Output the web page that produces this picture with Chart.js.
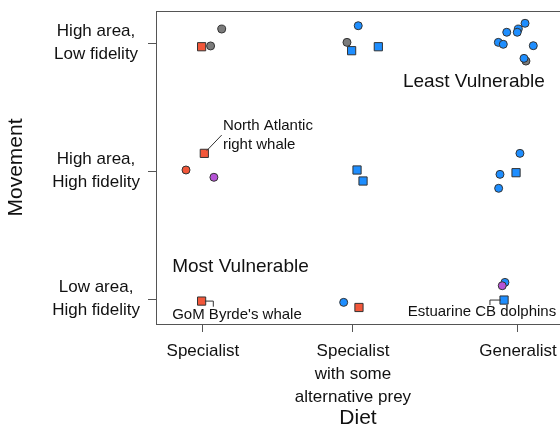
<!DOCTYPE html>
<html>
<head>
<meta charset="utf-8">
<script src="https://cdn.jsdelivr.net/npm/chart.js@4"></script>
<style>
  html, body { margin: 0; padding: 0; background: #fff; }
  #wrap { width: 560px; height: 442px; }
</style>
</head>
<body>
<div id="wrap"><canvas id="vulnChart" width="560" height="442"></canvas></div>
<script>
// categories: diet along x, movement along y
const dietLabels = ['Specialist', ['Specialist', 'with some', 'alternative prey'], 'Generalist'];
const dietPos = [1, 2, 3.1];
const movementLabels = [['Low area,', 'High fidelity'], ['High area,', 'High fidelity'], ['High area,', 'Low fidelity']];
const movementPos = [1, 2, 3];

// jittered species points, grouped by colour / shape
const redSquareX = [0.991, 1.009, 0.991, 2.040];
const redSquareY = [2.971, 2.138, 0.984, 0.934];
const redCircleX = [0.887];
const redCircleY = [2.008];
const purpleCircleX = [1.073, 2.995];
const purpleCircleY = [1.951, 1.104];
const blueSquareX = [1.991, 2.169, 2.027, 2.067, 3.087, 3.007];
const blueSquareY = [2.940, 2.971, 2.008, 1.922, 1.987, 0.992];
const blueCircleX = [2.035, 3.147, 3.102, 3.095, 3.025, 2.969, 3.002, 3.202, 3.140, 3.113, 2.980, 2.971, 1.938, 3.013];
const blueCircleY = [3.135, 3.154, 3.109, 3.084, 3.084, 3.005, 2.990, 2.979, 2.880, 2.138, 1.974, 1.865, 0.974, 1.130];
const grayCircleX = [1.125, 1.051, 1.960, 3.153];
const grayCircleY = [3.109, 2.977, 3.005, 2.859];

// text notes and leader lines, in data units
const notes = [
    { lines: ['North Atlantic', 'right whale'], x: 1.133, y: 2.354, size: 15 },
    { lines: ["GoM Byrde's whale"], x: 0.795, y: 0.875, size: 15 },
    { lines: ['Estuarine CB dolphins'], x: 2.365, y: 0.901, size: 15 },
    { lines: ['Least Vulnerable'], x: 2.333, y: 2.695, size: 19 },
    { lines: ['Most Vulnerable'], x: 0.795, y: 1.252, size: 19 }
];
const leaders = [
    [[1.025, 2.159], [1.125, 2.281]],
    [[1.013, 0.984], [1.069, 0.984], [1.069, 0.940]],
    [[2.985, 0.992], [2.913, 0.992], [2.913, 0.953]]
];

const fontFam = '"Liberation Sans", Arial, Helvetica, sans-serif';
const frameColor = '#555';
Chart.defaults.font.family = fontFam;
Chart.defaults.color = '#111';

function pts(xs, ys) {
    return xs.map((v, i) => ({ x: v, y: ys[i] }));
}

function set(data, fill, style, r) {
    return {
        data: data,
        backgroundColor: fill,
        borderColor: '#333',
        borderWidth: 1,
        pointStyle: style,
        pointRadius: r,
        pointHoverRadius: r
    };
}

const extras = {
    id: 'extras',
    afterDraw(chart) {
        const { ctx, chartArea, scales: { x, y } } = chart;
        ctx.save();
        // top frame line
        ctx.strokeStyle = frameColor;
        ctx.lineWidth = 1;
        ctx.beginPath();
        ctx.moveTo(chartArea.left, Math.round(chartArea.top) + 0.5);
        ctx.lineTo(chartArea.right, Math.round(chartArea.top) + 0.5);
        ctx.stroke();

        // leader lines
        ctx.strokeStyle = '#333';
        leaders.forEach(path => {
            ctx.beginPath();
            path.forEach((p, i) => {
                const px = x.getPixelForValue(p[0]);
                const py = y.getPixelForValue(p[1]);
                if (i === 0) ctx.moveTo(px, py); else ctx.lineTo(px, py);
            });
            ctx.stroke();
        });

        // notes
        ctx.fillStyle = '#111';
        ctx.textAlign = 'left';
        ctx.textBaseline = 'middle';
        notes.forEach(n => {
            ctx.font = n.size + 'px ' + fontFam;
            const px = x.getPixelForValue(n.x);
            const py = y.getPixelForValue(n.y);
            n.lines.forEach((t, i) => ctx.fillText(t, px, py + i * 19.5));
        });
        ctx.restore();
    }
};

const ctx = document.getElementById('vulnChart').getContext('2d');
const vulnChart = new Chart(ctx, {
    type: 'scatter',
    data: {
        datasets: [
            set(pts(redSquareX, redSquareY), '#F2573A', 'rect', 5.8),
            set(pts(redCircleX, redCircleY), '#F2573A', 'circle', 4),
            set(pts(purpleCircleX, purpleCircleY), '#B553D6', 'circle', 4),
            set(pts(blueSquareX, blueSquareY), '#1E8EFF', 'rect', 5.8),
            set(pts(blueCircleX, blueCircleY), '#1E8EFF', 'circle', 4),
            set(pts(grayCircleX, grayCircleY), '#7B7B7B', 'circle', 4)
        ]
    },
    options: {
        responsive: false,
        animation: false,
        events: [],
        layout: { autoPadding: false, padding: { top: 11, left: 0, right: 0, bottom: 0 } },
        plugins: {
            legend: { display: false },
            tooltip: { enabled: false }
        },
        scales: {
            x: {
                type: 'linear',
                min: 0.687,
                max: 3.38,
                afterBuildTicks: s => { s.ticks = dietPos.map(v => ({ value: v })); },
                afterFit: s => { s.height = 118; s.paddingLeft = 0; s.paddingRight = 0; },
                ticks: {
                    autoSkip: false,
                    maxRotation: 0,
                    minRotation: 0,
                    padding: 8,
                    color: '#111',
                    font: { size: 17, lineHeight: 1.353 },
                    callback: (v, i) => dietLabels[i]
                },
                grid: { drawOnChartArea: false, drawTicks: true, tickLength: 8, color: frameColor },
                border: { display: true, color: frameColor, width: 1 },
                title: {
                    display: true,
                    text: 'Diet',
                    color: '#111',
                    font: { size: 21 },
                    padding: { top: 0, bottom: 11 }
                }
            },
            y: {
                type: 'linear',
                min: 0.805,
                max: 3.25,
                afterBuildTicks: s => { s.ticks = movementPos.map(v => ({ value: v })); },
                afterFit: s => { s.width = 156; s.paddingTop = 0; s.paddingBottom = 0; },
                ticks: {
                    autoSkip: false,
                    crossAlign: 'center',
                    padding: 8,
                    color: '#111',
                    font: { size: 17, lineHeight: 1.353 },
                    callback: (v, i) => movementLabels[i]
                },
                grid: { drawOnChartArea: false, drawTicks: true, tickLength: 8, color: frameColor },
                border: { display: true, color: frameColor, width: 1 },
                title: {
                    display: true,
                    text: 'Movement',
                    color: '#111',
                    font: { size: 21 },
                    padding: { top: 4, bottom: 0 }
                }
            }
        }
    },
    plugins: [extras]
});
</script>
</body>
</html>
